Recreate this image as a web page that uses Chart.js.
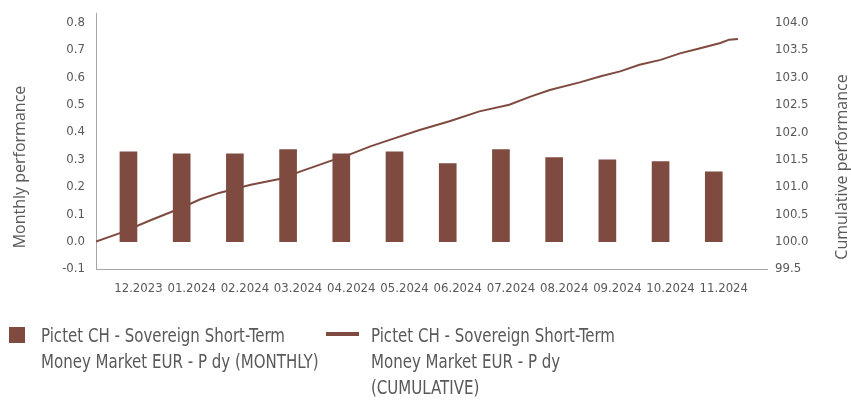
<!DOCTYPE html>
<html>
<head>
<meta charset="utf-8">
<script src="https://cdn.jsdelivr.net/npm/chart.js@4/dist/chart.umd.min.js"></script>
<style>
  html, body { margin: 0; padding: 0; background: #fff; }
  #wrap { position: relative; width: 851px; height: 400px; }
  #legend { position: absolute; left: 0; top: 0; width: 851px; height: 400px; pointer-events: none;
    font-size: 20px; line-height: 26px; color: #595959; }
  .box { position: absolute; left: 9px; top: 327px; width: 16px; height: 16px; background: #7f4a3f; }
  .dash { position: absolute; left: 326px; top: 332px; width: 33px; height: 4px; background: #7f4a3f; }
  .txt { position: absolute; top: 322px; white-space: nowrap; transform-origin: left top; }
</style>
</head>
<body>
<div id="wrap">
  <canvas id="chart" width="851" height="400"></canvas>
  <div id="legend">
    <div class="box"></div>
    <div class="txt" style="left:41px">Pictet CH - Sovereign Short-Term<br>Money Market EUR - P dy (MONTHLY)</div>
    <div class="dash"></div>
    <div class="txt" style="left:371px">Pictet CH - Sovereign Short-Term<br>Money Market EUR - P dy<br>(CUMULATIVE)</div>
  </div>
</div>
<script>
const months = ['12.2023', '01.2024', '02.2024', '03.2024', '04.2024', '05.2024',
  '06.2024', '07.2024', '08.2024', '09.2024', '10.2024', '11.2024'];
const monthlyPerf = [0.328, 0.321, 0.321, 0.336, 0.321, 0.328, 0.285, 0.336, 0.307, 0.299, 0.292, 0.255];

// cumulative series, days since start
const cumDays = [0, 14, 31, 48, 59, 70, 88, 105, 116, 133, 144, 156, 167, 184, 201, 218, 235,
  247, 258, 275, 287, 298, 309, 321, 332, 343, 355, 360, 365];
const cumPerf = [100.00, 100.16, 100.39, 100.61, 100.77, 100.89, 101.04, 101.15, 101.28, 101.47, 101.59,
  101.74, 101.86, 102.04, 102.20, 102.38, 102.50, 102.65, 102.77, 102.91, 103.02, 103.11, 103.23,
  103.32, 103.44, 103.53, 103.63, 103.69, 103.70];

const leftTicks = [-0.1, 0.0, 0.1, 0.2, 0.3, 0.4, 0.5, 0.6, 0.7, 0.8];
const rightTicks = [99.5, 100.0, 100.5, 101.0, 101.5, 102.0, 102.5, 103.0, 103.5, 104.0];

const brown = '#7f4a3f';
const grey = '#595959';
const axisGrey = '#a6a6a6';

// pick a narrow face if one is installed, else shrink a normal one
const mctx = document.createElement('canvas').getContext('2d');
function textWidth(font, s) { mctx.font = font; return mctx.measureText(s).width; }
function hasFont(fam) {
  const s = 'abcdefghij 0123456789 MWmw';
  return textWidth('40px monospace', s) !== textWidth('40px ' + fam + ', monospace', s) ||
    textWidth('40px serif', s) !== textWidth('40px ' + fam + ', serif', s);
}
const narrowFam = ['"Liberation Sans Narrow"', '"DejaVu Sans Condensed"', '"Roboto Condensed"',
  '"Arial Narrow"', '"Liberation Sans"'].find(hasFont) || 'sans-serif';
const tickSize = Math.min(16, 16 * 48.5 / textWidth('16px ' + narrowFam, '12.2023'));
const tickFont = { family: narrowFam, size: tickSize };

const legendScale = Math.min(1, 244 / textWidth('20px ' + narrowFam, 'Pictet CH - Sovereign Short-Term'));
document.getElementById('legend').style.fontFamily = narrowFam;
document.querySelectorAll('.txt').forEach(el => { el.style.transform = 'scaleX(' + legendScale + ')'; });

const axisTitles = {
  id: 'axisTitles',
  afterDraw(chart) {
    const ctx = chart.ctx;
    ctx.save();
    ctx.fillStyle = grey;
    ctx.font = '16px "Open Sans"';
    ctx.textAlign = 'center';
    ctx.textBaseline = 'middle';
    [['Monthly performance', 20], ['Cumulative performance', 842]].forEach(([t, x]) => {
      ctx.save();
      ctx.translate(x, 167);
      ctx.rotate(-Math.PI / 2);
      ctx.fillText(t, 0, 0);
      ctx.restore();
    });
    ctx.restore();
  }
};

const noPad = (s) => { s.paddingTop = 0; s.paddingBottom = 0; };

new Chart(document.getElementById('chart'), {
  type: 'bar',
  data: {
    datasets: [{
      type: 'bar',
      label: 'Pictet CH - Sovereign Short-Term Money Market EUR - P dy (MONTHLY)',
      data: monthlyPerf.map((v, i) => ({ x: i, y: v })),
      backgroundColor: brown,
      barThickness: 17,
      grouped: false,
      xAxisID: 'x',
      yAxisID: 'y'
    }, {
      type: 'line',
      label: 'Pictet CH - Sovereign Short-Term Money Market EUR - P dy (CUMULATIVE)',
      data: cumDays.map((d, i) => ({ x: d, y: cumPerf[i] })),
      borderColor: brown,
      borderWidth: 2,
      pointRadius: 0,
      tension: 0,
      xAxisID: 'xLine',
      yAxisID: 'y1'
    }]
  },
  options: {
    responsive: false,
    animation: false,
    layout: { padding: { top: 13, left: 0, right: 0, bottom: 0 } },
    plugins: { legend: { display: false }, tooltip: { enabled: false } },
    scales: {
      x: {
        type: 'linear',
        min: -0.61,
        max: 12.0,
        offset: false,
        grid: { display: false, drawTicks: false, offset: false },
        border: { display: true, color: axisGrey, width: 1 },
        afterBuildTicks: (s) => { s.ticks = months.map((m, i) => ({ value: i })); },
        afterFit: (s) => { s.height = 131; },
        ticks: {
          autoSkip: false, maxRotation: 0, padding: 12, labelOffset: 10,
          color: grey, font: tickFont,
          callback: (v) => months[v]
        }
      },
      xLine: {
        type: 'linear',
        display: false,
        offset: false,
        grid: { offset: false },
        min: 0,
        max: 381.5
      },
      y: {
        position: 'left',
        min: -0.1,
        max: 0.835,
        grid: { display: false, drawTicks: false },
        border: { display: true, color: axisGrey, width: 1 },
        afterBuildTicks: (s) => { s.ticks = leftTicks.map(v => ({ value: v })); },
        afterFit: (s) => { s.width = 96; noPad(s); },
        ticks: { padding: 11, color: grey, font: tickFont, callback: (v) => v.toFixed(1) }
      },
      y1: {
        position: 'right',
        min: 99.5,
        max: 104.177,
        grid: { display: false, drawTicks: false },
        border: { display: false },
        afterBuildTicks: (s) => { s.ticks = rightTicks.map(v => ({ value: v })); },
        afterFit: (s) => { s.width = 84; noPad(s); },
        ticks: { padding: 8, color: grey, font: tickFont, callback: (v) => v.toFixed(1) }
      }
    }
  },
  plugins: [axisTitles]
});
</script>
</body>
</html>
